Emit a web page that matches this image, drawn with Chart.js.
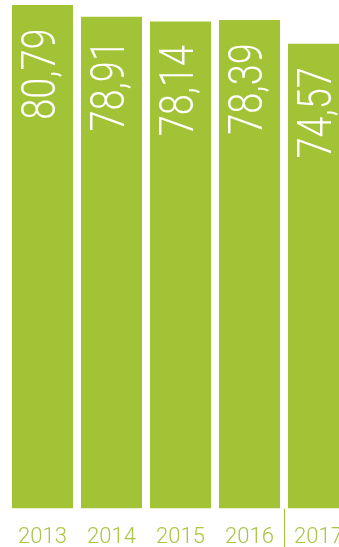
<!DOCTYPE html>
<html>
<head>
<meta charset="utf-8">
<script src="https://cdn.jsdelivr.net/npm/chart.js@4/dist/chart.umd.min.js"></script>
<style>
  html, body { margin: 0; padding: 0; background: #fff; }
  #wrap { position: relative; width: 339px; height: 547px; overflow: hidden; }
  #chart { position: absolute; left: 0; top: 0; }
</style>
</head>
<body>
<div id="wrap"><canvas id="chart" width="353" height="559"></canvas></div>
<script>
const years = ['2013', '2014', '2015', '2016', '2017'];
const values = [80.79, 78.91, 78.14, 78.39, 74.57];

const GREEN = '#a3c337';

// white rotated value inside the top of each bar
const barValues = {
  id: 'barValues',
  afterDatasetsDraw(chart) {
    const { ctx } = chart;
    const meta = chart.getDatasetMeta(0);
    ctx.save();
    ctx.fillStyle = '#ffffff';
    ctx.font = '300 48px Roboto';
    ctx.textAlign = 'center';
    ctx.textBaseline = 'middle';
    meta.data.forEach((bar, i) => {
      const text = values[i].toFixed(2).replace('.', ',');
      ctx.save();
      ctx.translate(bar.x + 0.5, bar.y + 69);
      ctx.rotate(-Math.PI / 2);
      ctx.scale(0.79, 1);
      ctx.fillText(text, 0, 0);
      ctx.restore();
    });
    ctx.restore();
  }
};

// thin divider before the last year
const yearDivider = {
  id: 'yearDivider',
  afterDraw(chart) {
    const x = chart.scales.x;
    const pos = Math.round((x.getPixelForValue(3) + x.getPixelForValue(4)) / 2) + 0.5;
    const ctx = chart.ctx;
    ctx.save();
    ctx.strokeStyle = GREEN;
    ctx.lineWidth = 1;
    ctx.beginPath();
    ctx.moveTo(pos, chart.chartArea.bottom);
    ctx.lineTo(pos, chart.height);
    ctx.stroke();
    ctx.restore();
  }
};

new Chart(document.getElementById('chart'), {
  type: 'bar',
  data: {
    labels: years,
    datasets: [{
      data: values,
      backgroundColor: GREEN,
      borderWidth: 0,
      barPercentage: 0.884,
      categoryPercentage: 1
    }]
  },
  options: {
    responsive: false,
    animation: false,
    layout: { padding: { left: 8, right: 0, top: 0, bottom: 0 } },
    plugins: { legend: { display: false }, tooltip: { enabled: false } },
    scales: {
      y: { display: false, min: 0, max: 81.6 },
      x: {
        grid: { display: false, drawTicks: true, tickLength: 8 },
        border: { display: false },
        ticks: {
          padding: 8,
          color: '#a8c545',
          font: { family: 'Roboto', size: 22, weight: '300' }
        }
      }
    }
  },
  plugins: [barValues, yearDivider]
});
</script>
</body>
</html>
